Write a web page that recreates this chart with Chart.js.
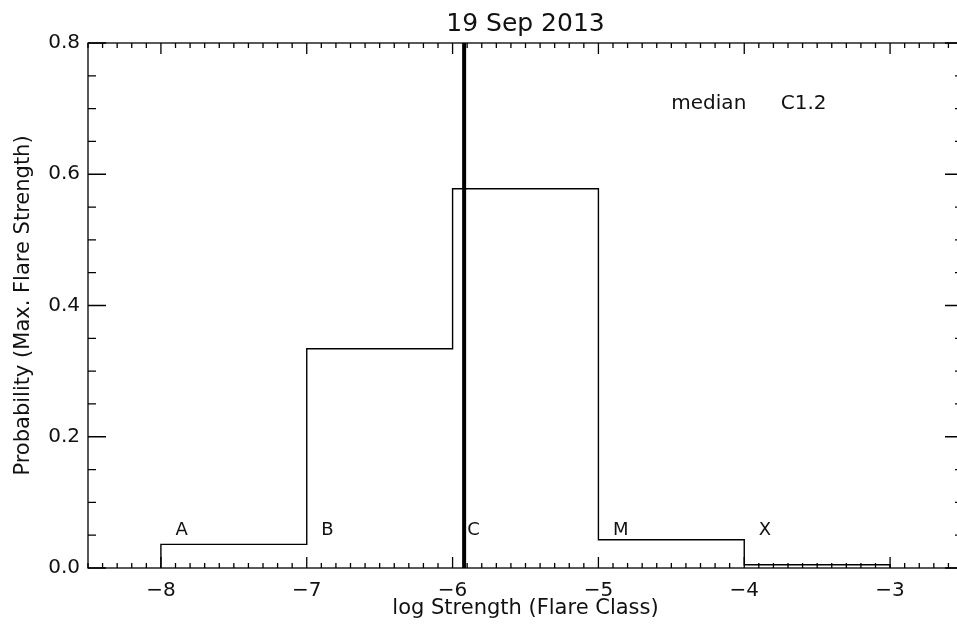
<!DOCTYPE html>
<html>
<head>
<meta charset="utf-8">
<title>Flare probability</title>
<script src="https://cdn.jsdelivr.net/npm/chart.js@4/dist/chart.umd.min.js"></script>
<style>
  html, body { margin: 0; padding: 0; background: #fff; overflow: hidden; }
  canvas { display: block; }
</style>
</head>
<body>
<canvas id="flareChart" width="975" height="629"></canvas>
<script>
// GOES class bins (log10 of peak flux, W m^-2) and forecast probability per class
const binEdges = [-8, -7, -6, -5, -4, -3];
const classLabels = ['A', 'B', 'C', 'M', 'X'];
const classProb = [0.036, 0.334, 0.578, 0.043, 0.005];
const xTicks = [-8, -7, -6, -5, -4, -3];
const yTicks = [0.0, 0.2, 0.4, 0.6, 0.8];

const dateLabel = '19 Sep 2013';
const medianClass = 'C';
const medianMult = 1.2;

const INK = '#111';
const FONT = "'DejaVu Sans', sans-serif";
Chart.defaults.font.family = FONT;
Chart.defaults.color = INK;

// median flux -> position on the log axis
const medianLog = binEdges[classLabels.indexOf(medianClass)] + Math.log10(medianMult);
const medianText = medianClass + medianMult.toFixed(1);

// step outline of the histogram
const histPoints = [{ x: binEdges[0], y: 0 }];
classProb.forEach((p, i) => {
  histPoints.push({ x: binEdges[i], y: p });
  histPoints.push({ x: binEdges[i + 1], y: p });
});
histPoints.push({ x: binEdges[binEdges.length - 1], y: 0 });

// box frame with inward major/minor ticks on all four sides, plus text labels
const idlAxes = {
  id: 'idlAxes',
  afterDatasetsDraw(chart) {
    const { ctx, chartArea: a, scales: { x, y } } = chart;
    ctx.save();
    ctx.strokeStyle = '#000';
    ctx.lineWidth = 1.3;
    ctx.strokeRect(a.left, a.top, a.right - a.left, a.bottom - a.top);

    ctx.beginPath();
    for (let t = Math.round(x.min * 10); t <= Math.round(x.max * 10); t++) {
      const px = x.getPixelForValue(t / 10);
      const len = t % 10 === 0 ? 11 : 5;
      ctx.moveTo(px, a.bottom); ctx.lineTo(px, a.bottom - len);
      ctx.moveTo(px, a.top); ctx.lineTo(px, a.top + len);
    }
    for (let k = 0; k <= Math.round(y.max / 0.05); k++) {
      const py = y.getPixelForValue(k * 0.05);
      const len = k % 4 === 0 ? 18 : 8;
      ctx.moveTo(a.left, py); ctx.lineTo(a.left + len, py);
      ctx.moveTo(a.right, py); ctx.lineTo(a.right - len, py);
    }
    ctx.stroke();

    ctx.fillStyle = INK;
    ctx.textBaseline = 'alphabetic';
    ctx.textAlign = 'left';
    ctx.font = '18px ' + FONT;
    classLabels.forEach((c, i) => {
      ctx.fillText(c, x.getPixelForValue(binEdges[i] + 0.1), y.getPixelForValue(0.05));
    });
    ctx.font = '20px ' + FONT;
    ctx.fillText('median', x.getPixelForValue(-4.5), y.getPixelForValue(0.7));
    ctx.fillText(medianText, x.getPixelForValue(-3.75), y.getPixelForValue(0.7));
    ctx.restore();
  }
};

const tickFont = { size: 20 };
const titleFont = { size: 21 };

new Chart(document.getElementById('flareChart'), {
  type: 'scatter',
  data: {
    datasets: [
      {
        data: histPoints,
        showLine: true,
        borderColor: '#000',
        borderWidth: 1.4,
        pointRadius: 0,
        tension: 0
      },
      {
        data: [{ x: medianLog, y: yTicks[0] }, { x: medianLog, y: yTicks[yTicks.length - 1] }],
        showLine: true,
        borderColor: '#000',
        borderWidth: 4,
        pointRadius: 0
      }
    ]
  },
  options: {
    responsive: false,
    animation: false,
    events: [],
    layout: { padding: { left: 0, right: 12, top: 0, bottom: 0 } },
    plugins: {
      legend: { display: false },
      tooltip: { enabled: false },
      title: {
        display: true,
        text: dateLabel,
        fullSize: false,
        color: INK,
        font: { size: 25, weight: 'normal' },
        padding: { top: 9.5, bottom: 3.5 }
      }
    },
    scales: {
      x: {
        type: 'linear',
        min: -8.5,
        max: -2.5,
        grid: { display: false, drawTicks: false },
        border: { display: false },
        afterBuildTicks: s => { s.ticks = xTicks.map(v => ({ value: v })); },
        afterFit: s => { s.height = 61; },
        ticks: {
          autoSkip: false,
          maxRotation: 0,
          padding: 11,
          font: tickFont,
          callback: v => (v < 0 ? '\u2212' + Math.abs(v) : String(v))
        },
        title: {
          display: true,
          text: 'log Strength (Flare Class)',
          font: titleFont,
          padding: { top: 0, bottom: 8 }
        }
      },
      y: {
        type: 'linear',
        min: 0,
        max: 0.8,
        grid: { display: false, drawTicks: false },
        border: { display: false },
        afterBuildTicks: s => { s.ticks = yTicks.map(v => ({ value: v })); },
        afterFit: s => { s.width = 88; },
        ticks: {
          padding: 8,
          font: tickFont,
          callback: v => v.toFixed(1)
        },
        title: {
          display: true,
          text: 'Probability (Max. Flare Strength)',
          font: titleFont,
          padding: { top: 11, bottom: 0 }
        }
      }
    }
  },
  plugins: [idlAxes]
});
</script>
</body>
</html>
